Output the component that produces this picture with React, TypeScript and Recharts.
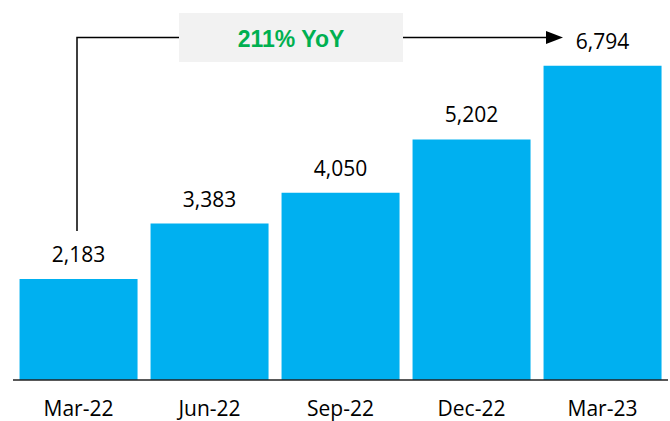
import React from "react";
import { BarChart, Bar, XAxis, YAxis, LabelList } from "recharts";

const categories = ["Mar-22", "Jun-22", "Sep-22", "Dec-22", "Mar-23"];
const values = [2183, 3383, 4050, 5202, 6794];
const growthLabel = "211% YoY";

const data = categories.map((c, i) => ({ period: c, value: values[i] }));

const W = 670;
const H = 421;
const M = { top: 10, right: 2, bottom: 0, left: 13 };
const X_AXIS_H = 41;
const Y_MAX = 8000;
const FONT = "'Open Sans', 'DejaVu Sans', sans-serif";

const plotW = W - M.left - M.right;
const plotH = H - M.top - M.bottom - X_AXIS_H;
const band = plotW / categories.length;
const cx = (i: number) => M.left + band * (i + 0.5);
const yPx = (v: number) => M.top + plotH - (v / Y_MAX) * plotH;

const fmt = (v: number) => v.toLocaleString("en-US");

const XTick = (props: any) => {
  const { x, y, payload } = props;
  return (
    <text x={x} y={y} dy={28} textAnchor="middle" fill="#000" fontSize={21} fontFamily={FONT}>
      {payload.value}
    </text>
  );
};

const Annotation = () => {
  const lineX = cx(0) - 1.5;
  const lineY = 37.5;
  const bottomY = yPx(values[0]) - 48;
  const boxL = 179;
  const boxR = 403;
  const arrowTip = 563;
  return (
    <svg width={W} height={H} style={{ position: "absolute", left: 0, top: 0, pointerEvents: "none" }}>
      <polyline
        points={`${lineX},${bottomY} ${lineX},${lineY} ${boxL},${lineY}`}
        fill="none"
        stroke="#000"
        strokeWidth={1.5}
      />
      <rect x={boxL} y={13} width={boxR - boxL} height={49} fill="#F2F2F2" />
      <text
        x={(boxL + boxR) / 2}
        y={47}
        textAnchor="middle"
        fill="#00B050"
        fontSize={23}
        fontWeight="bold"
        fontFamily="'Liberation Sans', Arial, sans-serif"
      >
        {growthLabel}
      </text>
      <line x1={boxR} y1={lineY} x2={arrowTip - 16} y2={lineY} stroke="#000" strokeWidth={1.5} />
      <polygon
        points={`${arrowTip - 17},${lineY - 6.5} ${arrowTip},${lineY} ${arrowTip - 17},${lineY + 6.5}`}
        fill="#000"
      />
    </svg>
  );
};

export default function App() {
  return (
    <div style={{ position: "absolute", left: 0, top: 0, width: W, height: H, background: "#fff" }}>
      <BarChart width={W} height={H} data={data} margin={M} barCategoryGap="5%">
        <XAxis
          dataKey="period"
          height={X_AXIS_H}
          axisLine={{ stroke: "#222", strokeWidth: 1.5 }}
          tickLine={false}
          tick={<XTick />}
          interval={0}
        />
        <YAxis hide domain={[0, Y_MAX]} />
        <Bar dataKey="value" fill="#00B0F0" isAnimationActive={false}>
          <LabelList
            dataKey="value"
            position="top"
            offset={17}
            formatter={(v: any) => fmt(Number(v))}
            fill="#000"
            fontSize={21}
            fontFamily={FONT}
          />
        </Bar>
      </BarChart>
      <Annotation />
    </div>
  );
}
